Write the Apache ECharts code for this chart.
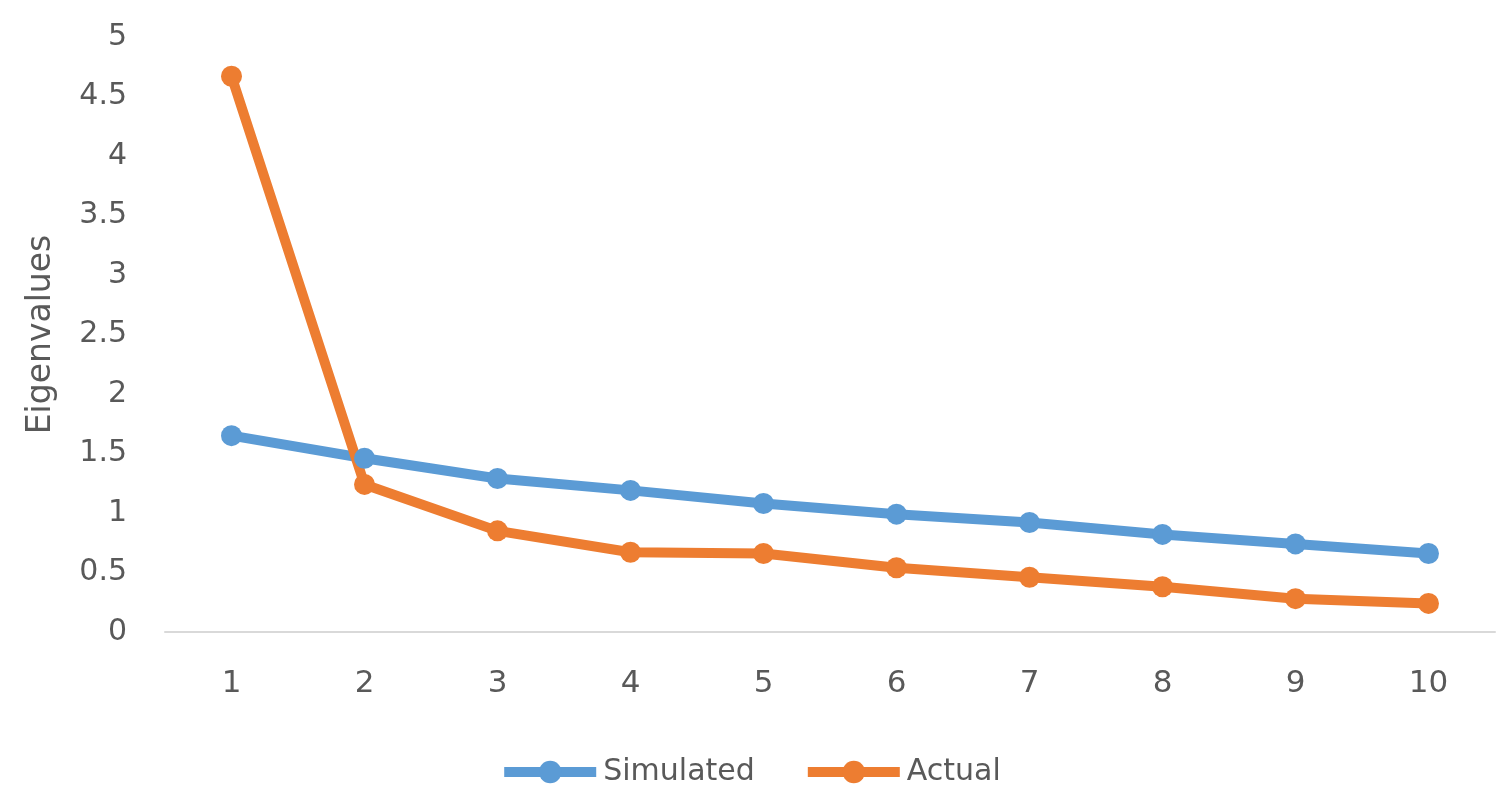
<!DOCTYPE html>
<html>
<head>
<meta charset="utf-8">
<script src="https://cdn.jsdelivr.net/npm/echarts@6/dist/echarts.min.js"></script>
<style>html,body{margin:0;padding:0;background:#fff;}#c{width:1500px;height:800px;}</style>
</head>
<body>
<div id="c"></div>
<script>
const categories = ['1','2','3','4','5','6','7','8','9','10'];
const simulated = [1.65, 1.46, 1.29, 1.19, 1.08, 0.99, 0.92, 0.82, 0.74, 0.66];
const actual = [4.67, 1.24, 0.85, 0.67, 0.66, 0.54, 0.46, 0.38, 0.28, 0.24];
const yAxisName = 'Eigenvalues';

const chart = echarts.init(document.getElementById('c'));
const font = '"DejaVu Sans", sans-serif';
chart.setOption({
  animation: false,
  textStyle: { fontFamily: font },
  grid: { left: 165, right: 5, top: 37, bottom: 168 },
  legend: {
    bottom: 8,
    left: 'center',
    itemWidth: 92,
    itemHeight: 28,
    itemGap: 48,
    lineStyle: { width: 10 },
    textStyle: { fontSize: 30, color: '#595959', fontFamily: font, padding: [0,0,0,2] },
    data: ['Simulated', 'Actual']
  },
  xAxis: {
    type: 'category',
    data: categories,
    boundaryGap: true,
    axisLine: { lineStyle: { color: '#D9D9D9', width: 2 } },
    axisTick: { show: false },
    axisLabel: { fontSize: 31, color: '#595959', margin: 36 }
  },
  yAxis: {
    type: 'value',
    min: 0, max: 5, interval: 0.5,
    name: yAxisName,
    nameLocation: 'middle',
    nameGap: 107,
    nameTextStyle: { fontSize: 33, color: '#595959' },
    axisLine: { show: false },
    axisTick: { show: false },
    splitLine: { show: false },
    axisLabel: { fontSize: 30, color: '#595959', margin: 38 }
  },
  series: [
    {
      name: 'Simulated', type: 'line', data: simulated,
      symbol: 'circle', symbolSize: 21,
      itemStyle: { color: '#5B9BD5' },
      lineStyle: { width: 10, color: '#5B9BD5' }
    },
    {
      name: 'Actual', type: 'line', data: actual,
      symbol: 'circle', symbolSize: 21,
      itemStyle: { color: '#ED7D31' },
      lineStyle: { width: 10, color: '#ED7D31' }
    }
  ]
});
</script>
</body>
</html>
